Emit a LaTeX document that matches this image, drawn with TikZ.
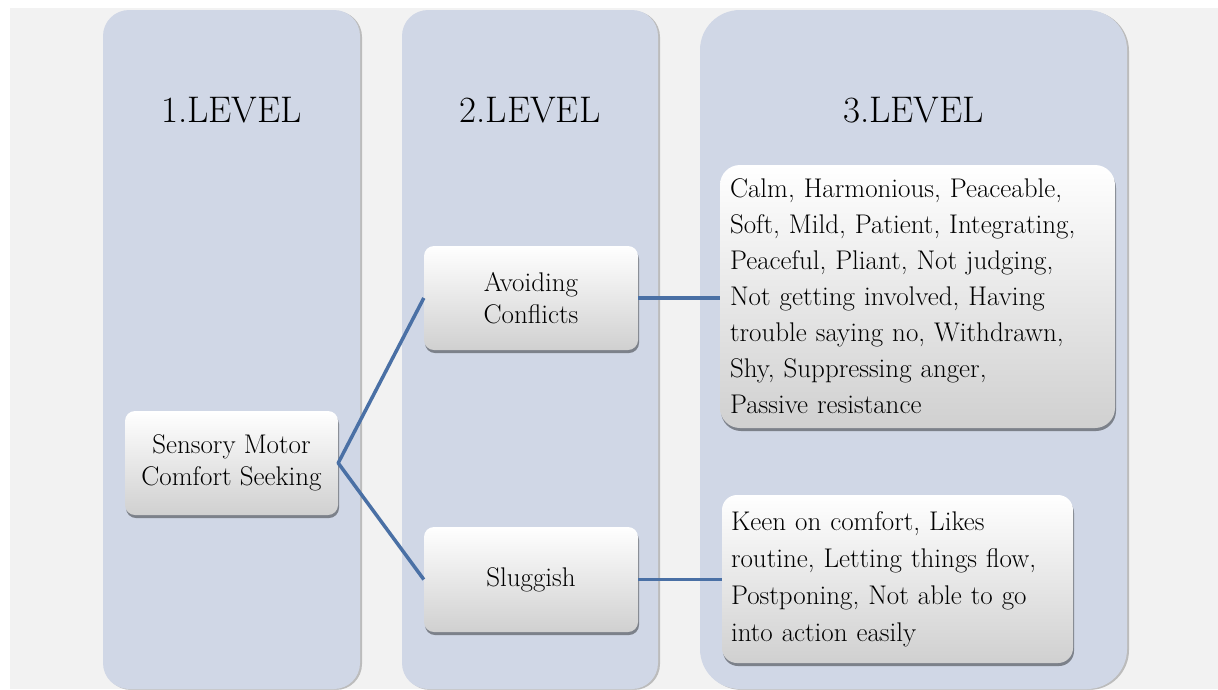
\documentclass[tikz,border=0pt]{standalone}
\usetikzlibrary{shadows}
\definecolor{bgc}{RGB}{242,242,242}
\definecolor{colc}{RGB}{208,215,230}
\definecolor{linec}{RGB}{74,112,165}
\definecolor{boxbot}{RGB}{208,208,208}
\definecolor{boxmid}{RGB}{244,244,244}
\tikzset{
  colbox/.style={fill=colc, drop shadow={shadow xshift=2pt, shadow yshift=-1pt, opacity=0.22, fill=black}},
  box/.style={rounded corners=10pt, top color=white, middle color=boxmid, bottom color=boxbot, inner sep=0pt,
    font=\fontsize{27}{32}\selectfont, align=center,
    drop shadow={shadow xshift=1pt, shadow yshift=-3pt, opacity=0.4, fill=black}},
  head/.style={font=\fontsize{37}{42}\selectfont, inner sep=0pt},
  conn/.style={draw=linec, line width=3.5pt},
}
\begin{document}
\begin{tikzpicture}[x=1pt,y=-1pt]
\useasboundingbox (0,0) rectangle (1218,689);
\fill[white] (0,0) rectangle (1218,689);
\fill[bgc] (10,8) rectangle (1218,689);
% columns
\path[colbox, rounded corners=26pt] (103,10) rectangle (360,689);
\path[colbox, rounded corners=26pt] (402,10) rectangle (658,689);
\path[colbox, rounded corners=40pt] (700,10) rectangle (1127,689);
% headers
\node[head] (h1) at (231.5,110) {1.LEVEL};
\node[head] (h2) at (530,110) {2.LEVEL};
\node[head] (h3) at (913.5,110) {3.LEVEL};
% boxes
\node[box, minimum width=213pt, minimum height=104pt] (a) at (231.5,463) {Sensory Motor\\Comfort Seeking};
\node[box, minimum width=214pt, minimum height=104pt] (b) at (531,298) {Avoiding\\Conflicts};
\node[box, minimum width=214pt, minimum height=105pt] (c) at (531,579.5) {Sluggish};
\node[box, rounded corners=20pt, minimum width=395pt, minimum height=263pt, text width=375pt, align=left,
  font=\fontsize{27}{36}\selectfont] (d) at (917.5,296.5)
  {Calm, Harmonious, Peaceable,\\Soft, Mild, Patient, Integrating,\\Peaceful, Pliant, Not judging,\\Not getting involved, Having\\trouble saying no, Withdrawn,\\Shy, Suppressing anger,\\Passive resistance};
\node[box, rounded corners=15pt, minimum width=351pt, minimum height=168pt, text width=333pt, align=left,
  font=\fontsize{27}{37}\selectfont] (e) at (897.5,579)
  {Keen on comfort, Likes\\routine, Letting things flow,\\Postponing, Not able to go\\into action easily};
% connectors
\draw[conn, line join=round] (b.west) -- (a.east) -- (c.west);
\draw[conn] (b.east) -- (b.east -| d.west);
\draw[conn] (c.east) -- (c.east -| e.west);
\end{tikzpicture}
\end{document}
